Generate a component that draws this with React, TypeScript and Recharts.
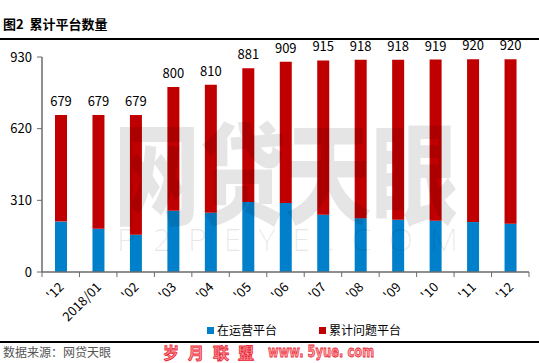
import { Bar, BarChart, LabelList, XAxis, YAxis } from "recharts";

const MONTHS = ["'12", "2018/01", "'02", "'03", "'04", "'05", "'06", "'07", "'08", "'09", "'10", "'11", "'12"];
// 在运营平台 (blue, bottom segment)
const OPERATING = [218, 187, 161, 265, 256, 303, 298, 248, 233, 226, 222, 216, 209];
// bar totals printed above each bar
const TOTALS = [679, 679, 679, 800, 810, 881, 909, 915, 918, 918, 919, 920, 920];
const Y_TICKS = [0, 310, 620, 930];

const BLUE = "#0080CB";
const RED = "#C00000";
const AXIS = "#6b6b6b";
const FONT = "'Noto Sans CJK SC', 'Noto Sans', sans-serif";

const data = MONTHS.map((month, i) => ({
  month,
  operating: OPERATING[i],
  problem: TOTALS[i] - OPERATING[i],
  total: TOTALS[i],
}));

// Excel-style ticks: marks sit between categories, labels rotated -45°
function MonthTick(props: any) {
  const { x, y, payload, index } = props;
  const half = payload?.offset ?? 18.7;
  const last = index === MONTHS.length - 1;
  const ax = x + 4;
  const ay = y + 16;
  return (
    <g>
      <line x1={x - half} x2={x - half} y1={y} y2={y + 5} stroke={AXIS} />
      {last && <line x1={x + half} x2={x + half} y1={y} y2={y + 5} stroke={AXIS} />}
      <text
        x={ax}
        y={ay}
        textAnchor="end"
        fontSize={13}
        fill="#000"
        fontFamily={FONT}
        transform={`rotate(-45, ${ax}, ${ay})`}
      >
        {payload.value}
      </text>
    </g>
  );
}

export default function App() {
  return (
    <div
      style={{
        position: "absolute",
        left: 0,
        top: 0,
        width: 539,
        height: 363,
        background: "#fff",
        fontFamily: FONT,
        overflow: "hidden",
      }}
    >
      <div style={{ position: "absolute", left: 3, top: 16, fontSize: 13, fontWeight: 700, lineHeight: "15px" }}>
        图2&nbsp;&nbsp;累计平台数量
      </div>
      <div style={{ position: "absolute", left: 0, top: 38, width: 539, height: 2, background: "#000" }} />

      <BarChart
        width={539}
        height={363}
        data={data}
        margin={{ top: 57, right: 10, left: 0, bottom: 31 }}
        barSize={12}
        style={{ position: "absolute", left: 0, top: 0 }}
      >
        <XAxis
          dataKey="month"
          interval={0}
          height={60}
          tickSize={0}
          tickMargin={0}
          tickLine={false}
          axisLine={{ stroke: AXIS, strokeWidth: 1.5 }}
          tick={<MonthTick />}
        />
        <YAxis
          domain={[0, 930]}
          ticks={Y_TICKS}
          width={42}
          tickSize={5}
          tickMargin={5}
          axisLine={{ stroke: AXIS, strokeWidth: 1.5 }}
          tickLine={{ stroke: AXIS }}
          tick={{ fill: "#000", fontSize: 13, fontFamily: FONT }}
        />
        <Bar dataKey="operating" stackId="a" fill={BLUE} isAnimationActive={false} />
        <Bar dataKey="problem" stackId="a" fill={RED} isAnimationActive={false}>
          <LabelList dataKey="total" position="top" offset={9} fill="#000" fontSize={13} fontFamily={FONT} />
        </Bar>
      </BarChart>

      {/* background watermark, drawn over the bars semi-transparently */}
      <div
        style={{
          position: "absolute",
          left: 114,
          top: 118,
          fontSize: 110,
          fontWeight: 900,
          lineHeight: "100px",
          color: "rgba(0,0,0,0.1)",
          transform: "scaleX(0.78)",
          transformOrigin: "left top",
          whiteSpace: "nowrap",
          pointerEvents: "none",
        }}
      >
        网贷天眼
      </div>
      <div
        style={{
          position: "absolute",
          left: 117,
          top: 225,
          fontSize: 32,
          fontWeight: 300,
          letterSpacing: 17,
          lineHeight: "28px",
          color: "rgba(0,0,0,0.09)",
          fontFamily: "'Open Sans', sans-serif",
          whiteSpace: "nowrap",
          pointerEvents: "none",
        }}
      >
        P2PEYE.COM
      </div>

      <span
        style={{ position: "absolute", left: 207, top: 321, display: "flex", alignItems: "center", gap: 3, fontSize: 12, lineHeight: "18px" }}
      >
        <span style={{ width: 7, height: 7, background: BLUE, display: "inline-block" }} />
        在运营平台
      </span>
      <span
        style={{ position: "absolute", left: 319, top: 321, display: "flex", alignItems: "center", gap: 3, fontSize: 12, lineHeight: "18px" }}
      >
        <span style={{ width: 7, height: 7, background: RED, display: "inline-block" }} />
        累计问题平台
      </span>

      <div style={{ position: "absolute", left: 0, top: 341, width: 539, height: 2, background: "#000" }} />
      <div style={{ position: "absolute", left: 3, top: 344, fontSize: 12, lineHeight: "16px", color: "#555" }}>
        数据来源：网贷天眼
      </div>
      <div
        style={{
          position: "absolute",
          left: 163,
          top: 343,
          fontSize: 16,
          fontWeight: 700,
          lineHeight: "18px",
          color: "#ff9a9a",
          WebkitTextStroke: "0.8px #e8283a",
          letterSpacing: 9,
          whiteSpace: "nowrap",
        }}
      >
        岁月联盟
      </div>
      <div
        style={{
          position: "absolute",
          left: 268,
          top: 343,
          fontSize: 16,
          fontWeight: 700,
          lineHeight: "18px",
          color: "#ff9a9a",
          WebkitTextStroke: "0.8px #e8283a",
          fontFamily: "'DejaVu Sans', sans-serif",
          transform: "scaleX(0.72)",
          transformOrigin: "left top",
          whiteSpace: "nowrap",
        }}
      >
        www. 5yue. com
      </div>
    </div>
  );
}
